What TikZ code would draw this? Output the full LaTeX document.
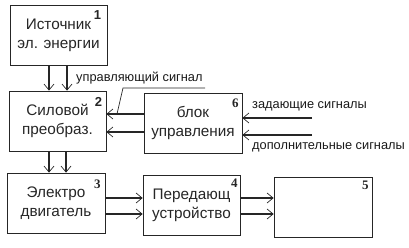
\documentclass[tikz,border=0pt]{standalone}
\usepackage{fontspec}
\setmainfont{Liberation Sans}
\newfontfamily\numserif{Liberation Serif}
\usetikzlibrary{arrows.meta}
\begin{document}
\begin{tikzpicture}[x=1pt,y=-1pt,
  blk/.style={draw=black!85,line width=0.8pt,minimum width=97pt,minimum height=60pt,inner sep=0pt,
    align=center,font=\fontsize{15.3}{19}\selectfont,text=black!85},
  arr/.style={line width=1.4pt,draw=black!85,-{Straight Barb[length=6pt,width=10pt,line width=0.7pt]}},
  num/.style={font=\fontsize{13}{13}\selectfont\bfseries,text=black!85,inner sep=0pt},
  snum/.style={num,font=\fontsize{13}{13}\selectfont\bfseries\numserif},
  lbl/.style={font=\fontsize{12.8}{15}\selectfont,text=black!90,inner sep=0pt,anchor=west}]
\useasboundingbox (0,0) rectangle (409,248);
\node[blk] (b1) at (58.5,35) {Источник\\эл. энергии};
\node[blk] (b2) at (57.5,121) {Силовой\\преобраз.};
\node[blk,minimum width=98pt] (b3) at (56,203) {Электро\\двигатель};
\node[blk] (b4) at (191.5,205) {Передающ\\устройство};
\node[blk,minimum width=98pt] (b5) at (323,207) {};
\node[blk,minimum width=98pt] (b6) at (193,123) {блок\\управления};
\node[num] at ([shift={(-10,10)}]b1.north east) {1};
\node[num] at ([shift={(-8,11)}]b2.north east) {2};
\node[snum] at ([shift={(-8,12)}]b3.north east) {3};
\node[snum] at ([shift={(-6,9)}]b4.north east) {4};
\node[snum] at ([shift={(-7,9)}]b5.north east) {5};
\node[snum] at ([shift={(-7,11)}]b6.north east) {6};
% vertical arrows
\draw[arr] (49,0 |- b1.south) -- (49,0 |- b2.north);
\draw[arr] (67,0 |- b1.south) -- (67,0 |- b2.north);
\draw[arr] (49,0 |- b2.south) -- (49,0 |- b3.north);
\draw[arr] (66,0 |- b2.south) -- (66,0 |- b3.north);
% control to converter
\draw[arr] (b6.west |- 0,114) -- (b2.east |- 0,114);
\draw[arr] (b6.west |- 0,132) -- (b2.east |- 0,132);
% inputs
\coordinate (i1) at (312,118);
\coordinate (i2) at (312,135);
\draw[arr] (i1) -- (b6.east |- i1);
\draw[arr] (i2) -- (b6.east |- i2);
% bottom chain
\draw[arr] (b3.east |- 0,198) -- (b4.west |- 0,198);
\draw[arr] (b3.east |- 0,214) -- (b4.west |- 0,214);
\draw[arr] (b4.east |- 0,198) -- (b5.west |- 0,198);
\draw[arr] (b4.east |- 0,214) -- (b5.west |- 0,214);
% labels
\node[lbl] (l1) at (76,78) {управляющий сигнал};
\coordinate (u1) at (123,88);
\coordinate (u2) at (205,88);
\coordinate (u3) at (117,114);
\draw[line width=0.7pt,black!85] (u2) -- (u1) -- (u3);
\node[lbl] (l2) at (252,106) {задающие сигналы};
\node[lbl] (l3) at (252,147) {дополнительные сигналы};
\end{tikzpicture}
\end{document}
